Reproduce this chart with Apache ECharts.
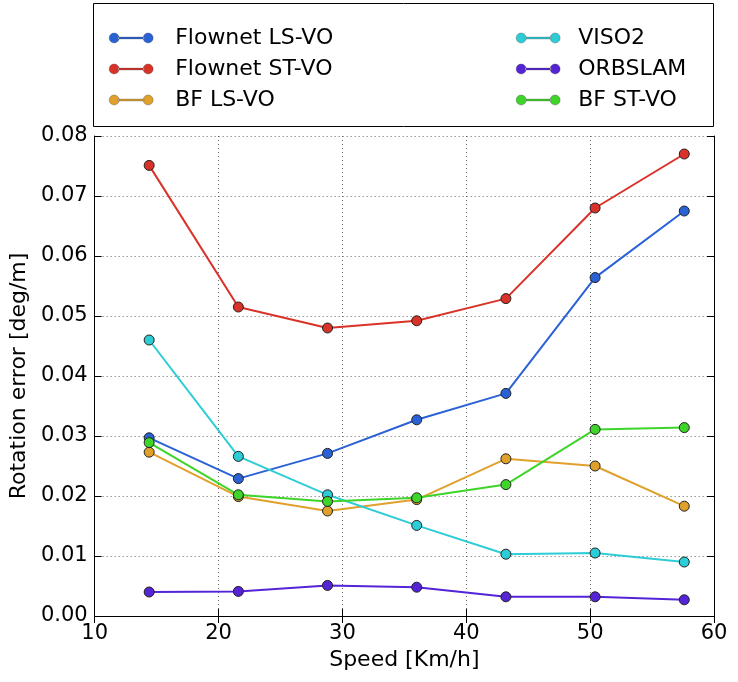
<!DOCTYPE html>
<html>
<head>
<meta charset="utf-8">
<script src="https://cdn.jsdelivr.net/npm/echarts@6/dist/echarts.min.js"></script>
<style>
html,body{margin:0;padding:0;background:#fff;}
#c{width:738px;height:682px;}
</style>
</head>
<body>
<div id="c"></div>
<script>
const speeds = [14.4, 21.6, 28.8, 36.0, 43.2, 50.4, 57.6];
const flownetLS = [0.0297, 0.0229, 0.0271, 0.0327, 0.0371, 0.0564, 0.0675];
const flownetST = [0.0751, 0.0515, 0.0480, 0.0492, 0.0529, 0.0680, 0.0770];
const bfLS = [0.0273, 0.0199, 0.0175, 0.0194, 0.0262, 0.0250, 0.0183];
const viso2 = [0.0460, 0.0266, 0.0202, 0.0151, 0.0103, 0.0105, 0.0090];
const orbslam = [0.0040, 0.0041, 0.0051, 0.0048, 0.0032, 0.0032, 0.0027];
const bfST = [0.0289, 0.0202, 0.0191, 0.0197, 0.0219, 0.0311, 0.0314];
const seriesNames = ['Flownet LS-VO', 'Flownet ST-VO', 'BF LS-VO', 'VISO2', 'ORBSLAM', 'BF ST-VO'];
const seriesValues = [flownetLS, flownetST, bfLS, viso2, orbslam, bfST];
const colors = ['#2a62d6', '#d93228', '#e0a02c', '#2ccdd6', '#5424d6', '#3fd42a'];
const xTicks = [10, 20, 30, 40, 50, 60];
const yTicks = [0, 0.01, 0.02, 0.03, 0.04, 0.05, 0.06, 0.07, 0.08];

const FONT = 'DejaVu Sans';
const chart = echarts.init(document.getElementById('c'), null, {renderer: 'canvas'});

const iconPath = 'path://M0,5a5,5 0 1,0 10,0a5,5 0 1,0 -10,0zM9,4.1h26v1.8h-26zM34,5a5,5 0 1,0 10,0a5,5 0 1,0 -10,0z';

function legendCfg(names, left, pad) {
  return {
    orient: 'vertical',
    left: left,
    top: 21,
    itemWidth: 44,
    itemHeight: 10,
    itemGap: 7,
    icon: iconPath,
    data: names,
    itemStyle: {borderColor: '#333', borderWidth: 0.3},
    textStyle: {fontFamily: FONT, fontSize: 22, color: '#000', padding: [0, 0, 0, pad], lineHeight: 24}
  };
}

const mkAxisLine = {show: true, lineStyle: {color: '#000', width: 1}};

const option = {
  animation: false,
  backgroundColor: '#fff',
  color: colors,
  textStyle: {fontFamily: FONT},
  legend: [
    legendCfg(seriesNames.slice(0, 3), 104, 17),
    legendCfg(seriesNames.slice(3), 511, 13)
  ],
  graphic: [{
    type: 'rect',
    shape: {x: 93.5, y: 3.5, width: 620, height: 123},
    style: {fill: 'none', stroke: '#000', lineWidth: 1},
    silent: true,
    z: 100
  }],
  grid: {left: 93, right: 24, top: 136, bottom: 66, containLabel: false},
  xAxis: [{
    type: 'value', min: xTicks[0], max: xTicks[xTicks.length - 1], interval: 10,
    position: 'bottom',
    name: 'Speed [Km/h]', nameLocation: 'middle', nameGap: 33,
    nameTextStyle: {fontFamily: FONT, fontSize: 22, color: '#000'},
    axisLine: mkAxisLine,
    axisTick: {show: true, inside: true, length: 7, lineStyle: {color: '#000'}},
    axisLabel: {fontFamily: FONT, fontSize: 21, color: '#000', margin: 7},
    splitLine: {show: true, lineStyle: {color: '#666', type: [1, 3], width: 1}}
  }, {
    type: 'value', min: xTicks[0], max: xTicks[xTicks.length - 1], interval: 10,
    position: 'top',
    axisLine: mkAxisLine,
    axisTick: {show: true, inside: true, length: 7, lineStyle: {color: '#000'}},
    axisLabel: {show: false},
    splitLine: {show: false}
  }],
  yAxis: [{
    type: 'value', min: yTicks[0], max: yTicks[yTicks.length - 1], interval: 0.01,
    position: 'left',
    name: 'Rotation error [deg/m]', nameLocation: 'middle', nameGap: 62,
    nameTextStyle: {fontFamily: FONT, fontSize: 22, color: '#000'},
    axisLine: mkAxisLine,
    axisTick: {show: true, inside: true, length: 7, lineStyle: {color: '#000'}},
    axisLabel: {fontFamily: FONT, fontSize: 21, color: '#000', margin: 7, formatter: v => v.toFixed(2)},
    splitLine: {show: true, lineStyle: {color: '#666', type: [1, 3], width: 1}}
  }, {
    type: 'value', min: yTicks[0], max: yTicks[yTicks.length - 1], interval: 0.01,
    position: 'right',
    axisLine: mkAxisLine,
    axisTick: {show: true, inside: true, length: 7, lineStyle: {color: '#000'}},
    axisLabel: {show: false},
    splitLine: {show: false}
  }],
  series: seriesNames.map((name, i) => ({
    name: name,
    type: 'line',
    xAxisIndex: 0,
    yAxisIndex: 0,
    data: speeds.map((s, j) => [s, seriesValues[i][j]]),
    symbol: 'circle',
    symbolSize: 10,
    lineStyle: {width: 2, color: colors[i]},
    itemStyle: {color: colors[i], borderColor: '#222', borderWidth: 1},
    emphasis: {disabled: true}
  }))
};
chart.setOption(option);
</script>
</body>
</html>
